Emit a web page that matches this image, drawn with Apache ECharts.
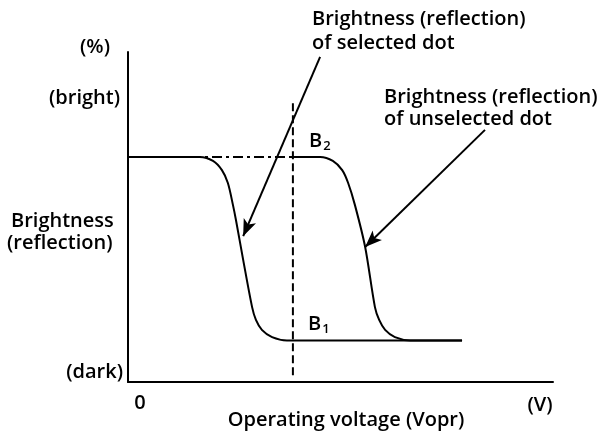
<!DOCTYPE html>
<html>
<head>
<meta charset="utf-8">
<script src="https://cdn.jsdelivr.net/npm/echarts@6/dist/echarts.min.js"></script>
<style>
  html, body { margin: 0; padding: 0; background: #fff; }
  #chart { width: 597px; height: 438px; }
</style>
</head>
<body>
<div id="chart"></div>
<script>
// curve of the selected dot (x = voltage, y = brightness), arbitrary units 0..100
var selX = [0, 16.9, 20, 22.1, 23.5, 24.7, 25.4, 27.1, 29.2, 30.1, 31.5, 33.9, 37.4, 38.8, 78.6];
var selY = [68.2, 68.2, 67, 64.2, 60.3, 53.6, 49.1, 37, 22.7, 18.8, 15.8, 13.6, 12.6, 12.6, 12.6];
// curve of the unselected dot: dash-dot part, then solid part
var unselPlateauX = [0, 38.8];
var unselPlateauY = [68.2, 68.2];
var unselX = [38.8, 45.2, 48.2, 50.4, 51.8, 53.4, 55.8, 58.1, 59.1, 60.5, 62.8, 66.4, 78.6];
var unselY = [68.2, 68.2, 67, 64.2, 60.3, 53.6, 40.9, 22.7, 18.8, 15.8, 13.6, 12.6, 12.6];
// operating voltage marker
var voprX = [38.8, 38.8];
var voprY = [84.5, 2];
// leader arrows [from, to]
var arrowSel = [[45.2, 98.5], [27.1, 44.2]];
var arrowUnsel = [[84, 76.4], [55.8, 40.9]];

function pairs(xs, ys) {
  return xs.map(function (x, i) { return [x, ys[i]]; });
}

var font = '"Open Sans", sans-serif';
var txt = function (x, y, text, align) {
  return {
    type: 'text', x: x, y: y,
    style: { text: text, font: '600 20px ' + font, fill: '#000', align: align || 'left', verticalAlign: 'middle' }
  };
};
var bsub = function (x, y, n) {
  return {
    type: 'text', x: x, y: y,
    style: {
      rich: { b: { font: '600 20px ' + font }, s: { font: '600 13px ' + font, padding: [10, 0, 0, 1] } },
      text: '{b|B}{s|' + n + '}', fill: '#000', verticalAlign: 'middle'
    }
  };
};

var chart = echarts.init(document.getElementById('chart'));
var lineBase = { type: 'line', symbol: 'none', silent: true, animation: false };

chart.setOption({
  animation: false,
  grid: { left: 128, top: 52, width: 425, height: 330 },
  xAxis: {
    type: 'value', min: 0, max: 100,
    axisLine: { lineStyle: { color: '#000', width: 2 } },
    axisTick: { show: false }, axisLabel: { show: false }, splitLine: { show: false }
  },
  yAxis: {
    type: 'value', min: 0, max: 100,
    axisLine: { show: true, lineStyle: { color: '#000', width: 2 } },
    axisTick: { show: false }, axisLabel: { show: false }, splitLine: { show: false }
  },
  series: [
    Object.assign({}, lineBase, {
      data: pairs(unselPlateauX, unselPlateauY),
      lineStyle: { color: '#000', width: 2, type: [10, 4, 3, 4] }
    }),
    Object.assign({}, lineBase, {
      data: pairs(unselX, unselY), smooth: 0.3,
      lineStyle: { color: '#000', width: 2 }
    }),
    Object.assign({}, lineBase, {
      data: pairs(selX, selY), smooth: 0.3,
      lineStyle: { color: '#000', width: 2 }
    }),
    Object.assign({}, lineBase, {
      data: pairs(voprX, voprY),
      lineStyle: { color: '#000', width: 2, type: [8, 4] }
    }),
    Object.assign({}, lineBase, {
      data: [],
      markLine: {
        silent: true, animation: false,
        symbol: ['none', 'arrow'], symbolSize: [10, 17],
        label: { show: false },
        lineStyle: { color: '#000', width: 2, type: 'solid' },
        data: [
          [{ coord: arrowSel[0] }, { coord: arrowSel[1] }],
          [{ coord: arrowUnsel[0] }, { coord: arrowUnsel[1] }]
        ]
      }
    })
  ],
  graphic: [
    txt(95, 47, '(%)', 'center'),
    txt(120, 98, '(bright)', 'right'),
    txt(11, 221, 'Brightness'),
    txt(7, 243, '(reflection)'),
    txt(123, 372, '(dark)', 'right'),
    txt(140, 403, '0', 'center'),
    txt(346, 420, 'Operating voltage (Vopr)', 'center'),
    txt(540, 405, '(V)', 'center'),
    txt(312, 19, 'Brightness (reflection)'),
    txt(312, 43, 'of selected dot'),
    txt(384, 97, 'Brightness (reflection)'),
    txt(384, 119, 'of unselected dot'),
    bsub(309, 141, '2'),
    bsub(308, 324, '1')
  ]
});
</script>
</body>
</html>
